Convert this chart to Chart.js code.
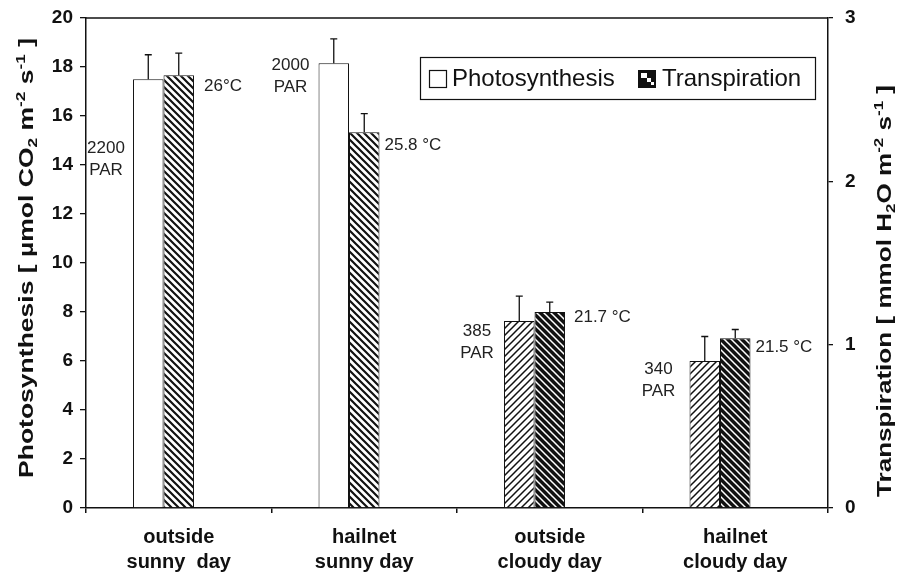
<!DOCTYPE html>
<html>
<head>
<meta charset="utf-8">
<script src="https://cdn.jsdelivr.net/npm/chart.js@4.4.1/dist/chart.umd.min.js"></script>
<style>
html,body{margin:0;padding:0;background:#fff;}
#wrap{width:903px;height:572px;}
</style>
</head>
<body>
<div id="wrap"><canvas id="c" width="903" height="572"></canvas></div>
<script>
// ---- data ----
const categories = [["outside","sunny  day"],["hailnet","sunny day"],["outside","cloudy day"],["hailnet","cloudy day"]];
const photosynthesis = [17.5, 18.15, 7.63, 6.0];
const photosynthesisErr = [1.0, 1.0, 1.02, 1.0];
const transpiration = [2.65, 2.30, 1.20, 1.04];
const transpirationErr = [0.135, 0.115, 0.06, 0.053];
const parLabels = ["2200", "2000", "385", "340"];
const tempLabels = ["26°C", "25.8 °C", "21.7 °C", "21.5 °C"];
const leftTicks = [0, 20, 1];   // min, max, step
const rightTicks = [0, 3, 1];

// annotation placement (y in left-axis units, x offsets in px from bar edges)
const parY = [14.25, 17.6, 6.75, 5.22];
const parDx = [27, 28, 27, 31];
const tempY = [17.22, 14.8, 7.8, 6.57];
const tempDx = [10, 5, 9, 5];

// ---- patterns ----
function makePattern(kind){
  const s = 7;
  const c = document.createElement('canvas');
  c.width = s; c.height = s;
  const g = c.getContext('2d');
  if(kind === 'dark'){
    g.fillStyle = '#111'; g.fillRect(0,0,s,s);
    g.strokeStyle = '#fff'; g.lineWidth = 1.5;
  } else {
    g.fillStyle = '#fff'; g.fillRect(0,0,s,s);
    g.strokeStyle = '#111'; g.lineWidth = kind === 'back' ? 2.2 : 1.5;
  }
  g.beginPath();
  if(kind === 'fwd'){
    g.moveTo(-1,s+1); g.lineTo(s+1,-1);
    g.moveTo(-1,1); g.lineTo(1,-1);
    g.moveTo(s-1,s+1); g.lineTo(s+1,s-1);
  } else {
    g.moveTo(-1,-1); g.lineTo(s+1,s+1);
    g.moveTo(s-1,-1); g.lineTo(s+1,1);
    g.moveTo(-1,s-1); g.lineTo(1,s+1);
  }
  g.stroke();
  return g.createPattern(c,'repeat');
}
const pWhite = '#ffffff';
const pFwd = makePattern('fwd');
const pBack = makePattern('back');
const pDark = makePattern('dark');

const FONT = '"Liberation Sans", Arial, Helvetica, sans-serif';

function drawRich(ctx, parts, cx, baseY, size, targetLen){
  let total = 0;
  const widths = parts.map(p=>{
    const fs = p.s ? size*0.65 : size;
    ctx.font = 'bold ' + fs + 'px ' + FONT;
    const w = ctx.measureText(p.t).width;
    total += w; return w;
  });
  const k = targetLen ? targetLen/total : 1;
  ctx.save();
  ctx.translate(cx, baseY);
  ctx.rotate(-Math.PI/2);
  ctx.scale(k,1);
  let x = -total/2;
  ctx.textBaseline = 'alphabetic';
  ctx.textAlign = 'left';
  ctx.fillStyle = '#111';
  parts.forEach((p,i)=>{
    const fs = p.s ? size*0.65 : size;
    ctx.font = 'bold ' + fs + 'px ' + FONT;
    let dy = 0;
    if(p.s === 'sub') dy = size*0.22;
    if(p.s === 'sup') dy = -size*0.42;
    ctx.fillText(p.t, x, dy);
    x += widths[i];
  });
  ctx.restore();
}

const overlay = {
  id:'overlay',
  afterDatasetsDraw(chart){
    const ctx = chart.ctx;
    const ca = chart.chartArea;
    const yL = chart.scales.y, yR = chart.scales.y2;
    const m0 = chart.getDatasetMeta(0), m1 = chart.getDatasetMeta(1);
    ctx.save();
    // top border
    ctx.strokeStyle = '#111'; ctx.lineWidth = 1.5;
    ctx.beginPath(); ctx.moveTo(ca.left, ca.top); ctx.lineTo(ca.right, ca.top); ctx.stroke();
    // error bars
    ctx.lineWidth = 1.3;
    function eb(bar, topPx){
      ctx.beginPath();
      ctx.moveTo(bar.x, bar.y); ctx.lineTo(bar.x, topPx);
      ctx.moveTo(bar.x-3.5, topPx); ctx.lineTo(bar.x+3.5, topPx);
      ctx.stroke();
    }
    m0.data.forEach((b,i)=> eb(b, yL.getPixelForValue(photosynthesis[i]+photosynthesisErr[i])));
    m1.data.forEach((b,i)=> eb(b, yR.getPixelForValue(transpiration[i]+transpirationErr[i])));
    // annotations
    ctx.fillStyle = '#222';
    ctx.font = '17px ' + FONT;
    ctx.textBaseline = 'middle';
    m0.data.forEach((b,i)=>{
      const left = b.x - b.width/2;
      const cy = yL.getPixelForValue(parY[i]);
      ctx.textAlign = 'center';
      ctx.fillText(parLabels[i], left - parDx[i], cy - 11);
      ctx.fillText('PAR', left - parDx[i], cy + 11);
    });
    m1.data.forEach((b,i)=>{
      const right = b.x + b.width/2;
      ctx.textAlign = 'left';
      ctx.fillText(tempLabels[i], right + tempDx[i], yL.getPixelForValue(tempY[i]));
    });
    // legend
    const lx = ca.right - 408, ly = ca.top + 39;
    ctx.strokeStyle = '#111'; ctx.lineWidth = 1.2;
    ctx.strokeRect(lx + 0.5, ly + 0.5, 395, 42);
    ctx.fillStyle = '#fff';
    ctx.fillRect(lx + 9.5, ly + 13.5, 17, 17);
    ctx.strokeRect(lx + 9.5, ly + 13.5, 17, 17);
    ctx.fillStyle = '#111';
    ctx.fillRect(lx + 218, ly + 13, 18, 18);
    ctx.fillStyle = '#fff';
    ctx.fillRect(lx + 221, ly + 16, 6, 5);
    ctx.fillRect(lx + 227, ly + 21, 4, 4);
    ctx.fillRect(lx + 231, ly + 25, 3, 3);
    ctx.fillStyle = '#111';
    ctx.font = '24px ' + FONT;
    ctx.textAlign = 'left'; ctx.textBaseline = 'middle';
    ctx.fillText('Photosynthesis', lx + 32, ly + 22);
    ctx.fillText('Transpiration', lx + 242, ly + 22);
    // axis titles
    drawRich(ctx, [
      {t:'Photosynthesis [ µmol CO'},{t:'2',s:'sub'},{t:' m'},{t:'-2',s:'sup'},{t:' s'},{t:'-1',s:'sup'},{t:' ]'}
    ], 33, 258, 19.5, 440);
    drawRich(ctx, [
      {t:'Transpiration [ mmol H'},{t:'2',s:'sub'},{t:'O m'},{t:'-2',s:'sup'},{t:' s'},{t:'-1',s:'sup'},{t:' ]'}
    ], 891, 291, 19.5, 412);
    ctx.restore();
  }
};

const tickFont = {family: FONT, size: 19, weight: 'bold'};
function noPad(s){ s.paddingTop = 0; s.paddingBottom = 0; }

new Chart(document.getElementById('c'), {
  type: 'bar',
  data: {
    labels: categories,
    datasets: [
      {label:'Photosynthesis', data: photosynthesis, yAxisID:'y',
       backgroundColor:[pWhite,pWhite,pFwd,pFwd], borderColor:'#111', borderWidth:1},
      {label:'Transpiration', data: transpiration, yAxisID:'y2',
       backgroundColor:[pBack,pBack,pDark,pDark], borderColor:'#111', borderWidth:1},
      {label:'', data: categories.map(()=>null), yAxisID:'y'}
    ]
  },
  options: {
    responsive:false,
    animation:false,
    devicePixelRatio:1,
    categoryPercentage:0.493,
    barPercentage:1.0,
    layout:{padding:{top:18,left:0,right:0,bottom:0}},
    plugins:{legend:{display:false}, tooltip:{enabled:false}},
    scales:{
      x:{
        type:'category',
        grid:{display:true, drawOnChartArea:false, offset:true, tickLength:5, color:'#111', lineWidth:1.5},
        border:{display:true, color:'#111', width:1.5},
        ticks:{font:{family:FONT, size:20, weight:'bold', lineHeight:1.25}, color:'#111', padding:12, maxRotation:0, autoSkip:false},
        afterFit(s){ s.height = 64; s.paddingLeft = 0; s.paddingRight = 0; }
      },
      y:{
        position:'left', min:leftTicks[0], max:leftTicks[1],
        ticks:{stepSize:leftTicks[2], font:tickFont, color:'#111', padding:7,
               callback:(v)=> (v % 2 === 0 ? String(v) : '')},
        grid:{display:true, drawOnChartArea:false, tickLength:6, color:'#111', lineWidth:1.3},
        border:{display:true, color:'#111', width:1.5},
        afterFit(s){ s.width = 86; noPad(s); }
      },
      y2:{
        position:'right', min:rightTicks[0], max:rightTicks[1],
        ticks:{stepSize:rightTicks[2], font:tickFont, color:'#111', padding:12},
        grid:{display:true, drawOnChartArea:false, tickLength:5, color:'#111', lineWidth:1.3},
        border:{display:true, color:'#111', width:1.5},
        afterFit(s){ s.width = 75; noPad(s); }
      }
    }
  },
  plugins:[overlay]
});
</script>
</body>
</html>
